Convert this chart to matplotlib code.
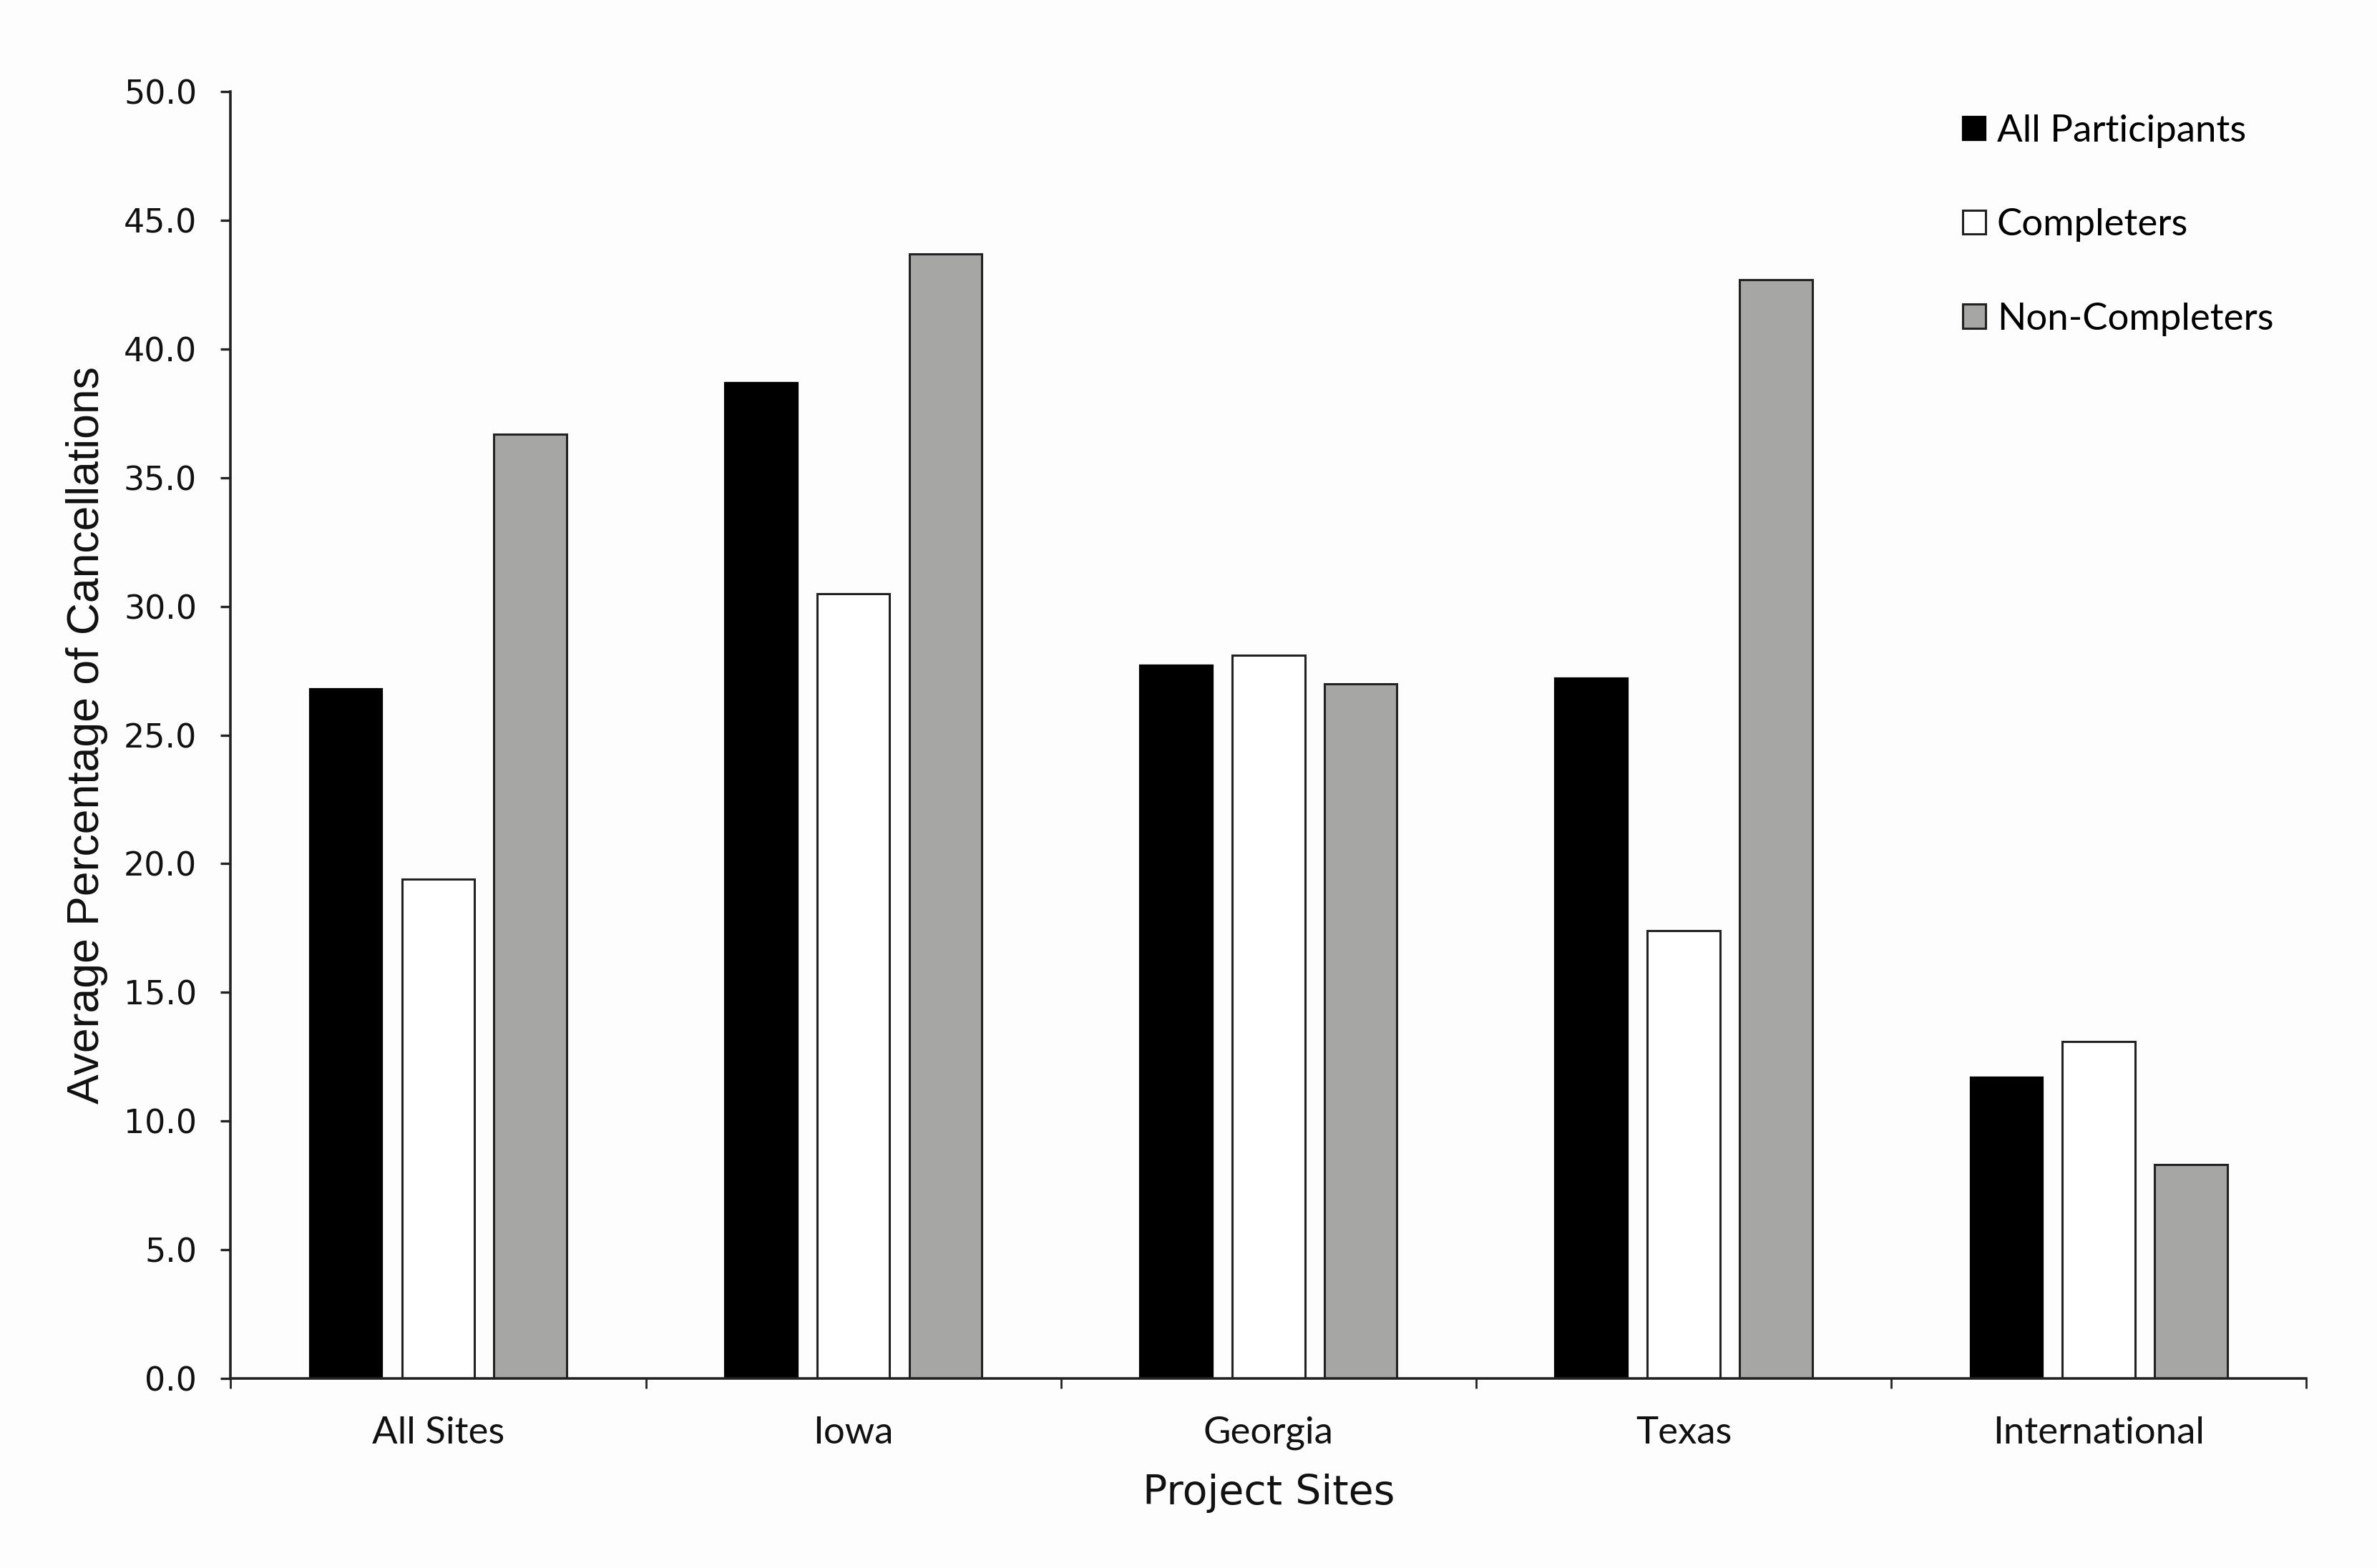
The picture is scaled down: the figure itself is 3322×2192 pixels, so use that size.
import matplotlib
matplotlib.use('Agg')
import matplotlib.pyplot as plt
import numpy as np

# data
sites = ['All Sites', 'Iowa', 'Georgia', 'Texas', 'International']
all_participants = [26.8, 38.7, 27.7, 27.2, 11.7]
completers = [19.4, 30.5, 28.1, 17.4, 13.1]
non_completers = [36.7, 43.7, 27.0, 42.7, 8.3]
series_names = ['All Participants', 'Completers', 'Non-Completers']

bg = '#fcfdfc'
fig = plt.figure(figsize=(16.615, 10.96), dpi=200, facecolor=bg)
ax = fig.add_axes([0.097, 0.121, 0.873, 0.8205], facecolor=bg)

x = np.arange(len(sites))
w = 0.175
step = 0.222
ax.bar(x - step, all_participants, w, color='black', edgecolor='black', linewidth=0.8,
       label=series_names[0])
ax.bar(x, completers, w, color='white', edgecolor='#222222', linewidth=1.1,
       label=series_names[1])
ax.bar(x + step, non_completers, w, color='#a6a7a5', edgecolor='#222222', linewidth=1.1,
       label=series_names[2])

ax.set_xlim(-0.5, len(sites) - 0.5)
ax.set_ylim(0, 50)
ax.set_yticks(np.arange(0, 50.1, 5))
ax.set_yticklabels([f'{v:.1f}' for v in np.arange(0, 50.1, 5)],
                   fontsize=16.5, family='DejaVu Sans', color='#111111')

# ticks at the category boundaries, labels at the centres
ax.set_xticks(np.arange(-0.5, len(sites), 1))
ax.set_xticklabels([])
ax.set_xticks(x, minor=True)
ax.set_xticklabels(sites, minor=True, fontsize=19, family='Lato', color='#111111')
ax.tick_params(axis='x', which='minor', length=0, pad=19)
ax.tick_params(axis='x', which='major', length=5, width=1.0, direction='out', color='#222222')
ax.tick_params(axis='y', length=5, width=1.2, direction='out', color='#222222', pad=12)

for s in ['top', 'right']:
    ax.spines[s].set_visible(False)
for s in ['left', 'bottom']:
    ax.spines[s].set_color('#222222')
    ax.spines[s].set_linewidth(1.3)

ax.set_ylabel('Average Percentage of Cancellations', fontsize=22.5,
              family='Liberation Sans', color='#111111', labelpad=8)
ax.set_xlabel('Project Sites', fontsize=20.5, family='DejaVu Sans',
              color='#111111', labelpad=12)

leg = ax.legend(loc='upper right', bbox_to_anchor=(0.995, 1.0), frameon=False,
                prop={'family': 'Lato', 'size': 19}, handlelength=0.6,
                handleheight=0.6, handletextpad=0.3, labelspacing=1.6,
                borderaxespad=0.2)

plt.savefig('out.png', dpi=200, facecolor=bg)
